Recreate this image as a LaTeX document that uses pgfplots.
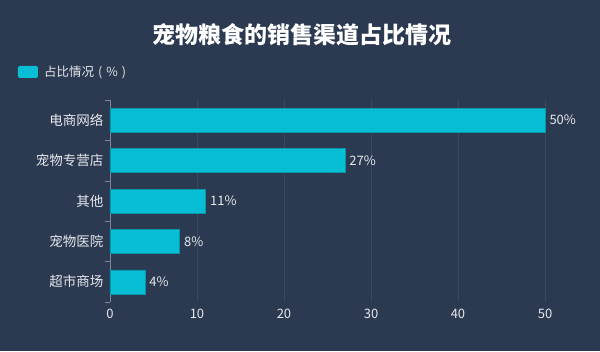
\documentclass[border=0pt]{standalone}
\usepackage{pgfplots}
\pgfplotsset{compat=1.18}
\usetikzlibrary{backgrounds}
\usepackage{fontspec}
\setmainfont{Noto Sans CJK SC}
\definecolor{bg}{HTML}{2B3951}
\definecolor{barc}{HTML}{07BED5}
\definecolor{gridc}{HTML}{3A4861}
\definecolor{axc}{HTML}{7D8798}
\definecolor{txt}{HTML}{E6E9EE}
\begin{document}
\begin{tikzpicture}[x=1pt,y=1pt]
\begin{axis}[
  name=ax,
  at={(0pt,0pt)}, anchor=south west,
  scale only axis, width=435pt, height=202pt,
  xmin=0, xmax=50, ymin=-0.5, ymax=4.5,
  xbar, bar width=24pt,
  xtick={0,10,20,30,40,50},
  ytick={0,1,2,3,4},
  yticklabels={超市商场,宠物医院,其他,宠物专营店,电商网络},
  major tick length=0pt,
  extra y ticks={-0.5,0.5,1.5,2.5,3.5,4.5},
  extra y tick labels={},
  extra y tick style={major tick length=5pt, tick align=outside, tick style={draw=axc, line width=0.6pt}, grid=none},
  xmajorgrids, grid style={gridc, line width=0.6pt},
  x axis line style={draw=none},
  y axis line style={draw=axc, line width=0.6pt},
  axis x line*=bottom, axis y line*=left,
  ticklabel style={text=txt, font=\fontsize{13}{15}\selectfont},
  yticklabel style={xshift=-3pt, font=\fontsize{13.5}{15}\selectfont},
  /pgf/number format/assume math mode=true,
  xticklabel style={yshift=-4pt},
  nodes near coords={\pgfmathprintnumber{\pgfplotspointmeta}\%},
  point meta=x,
  every node near coord/.append style={text=txt, font=\fontsize{13}{15}\selectfont, xshift=1pt},
  clip=false,
]
\addplot[fill=barc, draw=barc!80!black, line width=0.4pt] coordinates {(4,0) (8,1) (11,2) (27,3) (50,4)};
\end{axis}
\begin{scope}[shift={(ax.south west)}]
\node[text=white,font=\bfseries\fontsize{23}{27}\selectfont] at (192,267) {宠物粮食的销售渠道占比情况};
\fill[barc,rounded corners=2pt] (-92,224) rectangle (-72,236);
\node[anchor=west,text=txt,font=\fontsize{12.5}{14}\selectfont,inner sep=0pt] at (-66,230) {占比情况\hspace{4pt}(\hspace{4pt}\%\hspace{4pt})};
\begin{pgfonlayer}{background}
\fill[bg] (-110,-49) rectangle (490,302);
\end{pgfonlayer}
\end{scope}
\end{tikzpicture}
\end{document}
